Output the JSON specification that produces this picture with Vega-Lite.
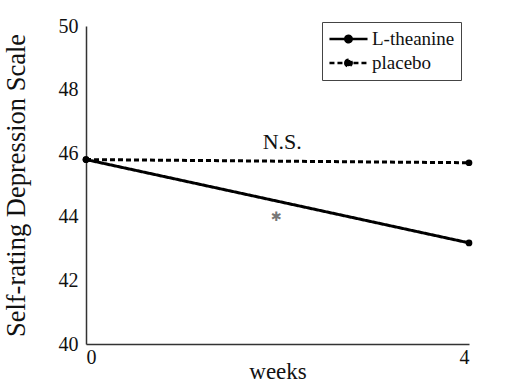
{
  "$schema": "https://vega.github.io/schema/vega-lite/v6.json",
  "width": 383,
  "height": 318,
  "autosize": {"type": "none"},
  "padding": {"left": 86, "top": 26, "right": 50, "bottom": 42},
  "background": "white",
  "config": {
    "view": {"stroke": null},
    "font": "Liberation Serif",
    "axis": {"grid": false, "ticks": false, "domainColor": "#333", "domainWidth": 1.5, "labelColor": "#111", "titleColor": "#111", "labelFont": "Liberation Serif", "titleFont": "Liberation Serif", "titleFontWeight": "normal"}
  },
  "datasets": {
    "series": [
      {"week": 0, "score": 45.8, "group": "L-theanine"},
      {"week": 4, "score": 43.18, "group": "L-theanine"},
      {"week": 0, "score": 45.8, "group": "placebo"},
      {"week": 4, "score": 45.7, "group": "placebo"}
    ],
    "notes": [
      {"week": 2.05, "score": 46.35, "label": "N.S.", "kind": "ns"},
      {"week": 1.99, "score": 44.0, "label": "✱", "kind": "star"}
    ]
  },
  "layer": [
    {
      "data": {"name": "series"},
      "mark": {"type": "line", "color": "black", "strokeWidth": 3, "point": {"filled": true, "color": "black", "size": 45}},
      "encoding": {
        "x": {"field": "week", "type": "quantitative", "scale": {"domain": [0, 4], "nice": false}, "axis": {"values": [0, 4], "format": "d", "title": "weeks", "labelFontSize": 20, "titleFontSize": 23, "labelPadding": 3, "titlePadding": -7}},
        "y": {"field": "score", "type": "quantitative", "scale": {"domain": [40, 50], "nice": false, "zero": false}, "axis": {"values": [40, 42, 44, 46, 48, 50], "title": "Self-rating Depression Scale", "labelFontSize": 20, "titleFontSize": 26.5, "labelPadding": 8, "titlePadding": 28}},
        "strokeDash": {
          "field": "group", "type": "nominal",
          "scale": {"domain": ["L-theanine", "placebo"], "range": [[1, 0], [5, 3]]},
          "legend": {
            "title": null, "orient": "none", "legendX": 236, "legendY": -4,
            "strokeColor": "#444", "padding": 6,
            "symbolType": "M-1,0L1,0M-0.17,0A0.17,0.17 0 1,1 0.17,0A0.17,0.17 0 1,1 -0.17,0Z",
            "symbolSize": 1450, "clipHeight": 22, "symbolStrokeWidth": 2.5, "symbolStrokeColor": "black", "symbolFillColor": "black",
            "labelFontSize": 19, "labelFont": "Liberation Serif", "labelColor": "#111", "rowPadding": 2, "labelOffset": 3,
            "encode": {"symbols": {"update": {"stroke": {"value": "black"}, "strokeWidth": {"value": 2.5}, "fill": {"value": "black"}}}}
          }
        }
      }
    },
    {
      "data": {"name": "notes"},
      "transform": [{"filter": "datum.kind == 'ns'"}],
      "mark": {"type": "text", "fontSize": 22, "font": "Liberation Serif", "color": "#111", "baseline": "middle"},
      "encoding": {"x": {"field": "week", "type": "quantitative"}, "y": {"field": "score", "type": "quantitative"}, "text": {"field": "label"}}
    },
    {
      "data": {"name": "notes"},
      "transform": [{"filter": "datum.kind == 'star'"}],
      "mark": {"type": "text", "fontSize": 13, "font": "DejaVu Sans", "color": "#777", "baseline": "middle"},
      "encoding": {"x": {"field": "week", "type": "quantitative"}, "y": {"field": "score", "type": "quantitative"}, "text": {"field": "label"}}
    }
  ]
}
